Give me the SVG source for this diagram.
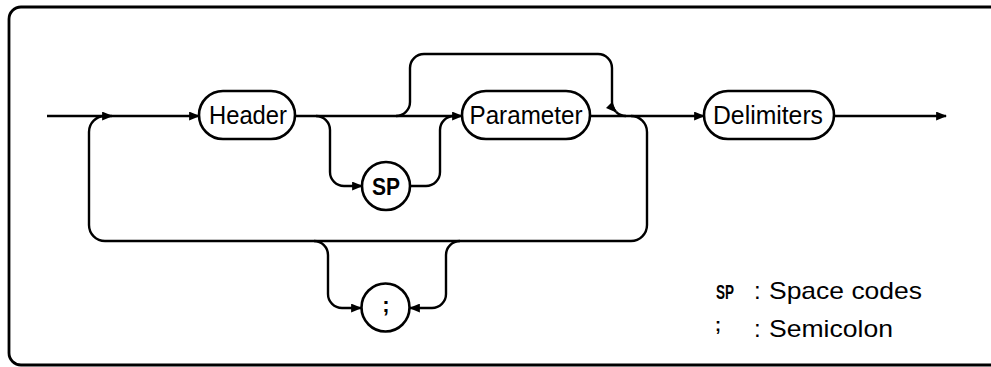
<svg xmlns="http://www.w3.org/2000/svg" width="991" height="367" viewBox="0 0 991 367">
<style>
.ln{fill:none;stroke:#000;stroke-width:2.4;stroke-linejoin:round}
.nd{fill:#fff;stroke:#000;stroke-width:2.6}
.lbl{font-family:"Liberation Sans",Arial,sans-serif;font-size:25px;fill:#000;text-anchor:middle}
.sym{font-family:"Liberation Sans",Arial,sans-serif;font-weight:bold;fill:#000;text-anchor:middle}
.leg{font-family:"Liberation Sans",Arial,sans-serif;font-size:24px;fill:#000}
</style>
<defs>
<marker id="arr" markerUnits="userSpaceOnUse" viewBox="0 0 10 8" markerWidth="11" markerHeight="9" refX="9" refY="4" orient="auto">
<path d="M0,0 L10,4 L0,8 z" fill="#000"/>
</marker>
</defs>
<rect x="9" y="7" width="1040" height="358" rx="12" fill="none" stroke="#000" stroke-width="2.8"/>
<g id="connectors">
<path class="ln" d="M47,116 H199" marker-end="url(#arr)"/>
<path class="ln" d="M295,116 H462" marker-end="url(#arr)"/>
<path class="ln" d="M316,116 A14,14 0 0 1 330,130 V172 A14,14 0 0 0 344,186 H362" marker-end="url(#arr)"/>
<path class="ln" d="M410,186 H426 A14,14 0 0 0 440,172 V130 A14,14 0 0 1 454,116"/>
<path class="ln" d="M396,116 A14,14 0 0 0 410,102 V68 A14,14 0 0 1 424,54 H598 A14,14 0 0 1 612,68 V102 A14,14 0 0 0 616.1,111.9" marker-end="url(#arr)"/>
<path class="ln" d="M616.1,111.9 A14,14 0 0 0 626,116"/>
<path class="ln" d="M590,116 H704" marker-end="url(#arr)"/>
<path class="ln" d="M834,116 H946" marker-end="url(#arr)"/>
<path class="ln" d="M631,116 A16,16 0 0 1 647,132 V225 A16,16 0 0 1 631,241 H105 A16,16 0 0 1 89,225 V132 A16,16 0 0 1 105,116"/>
<path class="ln" d="M105,116 H112" marker-end="url(#arr)"/>
<path class="ln" d="M460,241 A14,14 0 0 0 446,255 V294 A14,14 0 0 1 432,308 H410" marker-end="url(#arr)"/>
<path class="ln" d="M314,241 A14,14 0 0 1 328,255 V294 A14,14 0 0 0 342,308 H361" marker-end="url(#arr)"/>
</g>
<g id="header">
<rect class="nd" x="199" y="91" width="96" height="48" rx="24"/>
<text class="lbl" x="248" y="124" textLength="78" lengthAdjust="spacingAndGlyphs">Header</text>
</g>
<g id="parameter">
<rect class="nd" x="462" y="91" width="128" height="48" rx="24"/>
<text class="lbl" x="526" y="124" textLength="113" lengthAdjust="spacingAndGlyphs">Parameter</text>
</g>
<g id="delimiters">
<rect class="nd" x="704" y="91" width="130" height="48" rx="24"/>
<text class="lbl" x="768" y="124" textLength="110" lengthAdjust="spacingAndGlyphs">Delimiters</text>
</g>
<g id="sp">
<circle class="nd" cx="386" cy="186" r="24"/>
<text class="sym" x="386" y="195" font-size="24" textLength="28" lengthAdjust="spacingAndGlyphs">SP</text>
</g>
<g id="semicolon">
<circle class="nd" cx="385.5" cy="307.5" r="24"/>
<text class="sym" x="386" y="312" font-size="22">;</text>
</g>
<g id="legend">
<text class="sym" x="725" y="299" font-size="20" textLength="18" lengthAdjust="spacingAndGlyphs">SP</text>
<text class="leg" x="754" y="299">:</text>
<text class="leg" x="769" y="299" textLength="153" lengthAdjust="spacingAndGlyphs">Space codes</text>
<text class="sym" x="718" y="331" font-size="18">;</text>
<text class="leg" x="754" y="337">:</text>
<text class="leg" x="769" y="337" textLength="124" lengthAdjust="spacingAndGlyphs">Semicolon</text>
</g>
</svg>
